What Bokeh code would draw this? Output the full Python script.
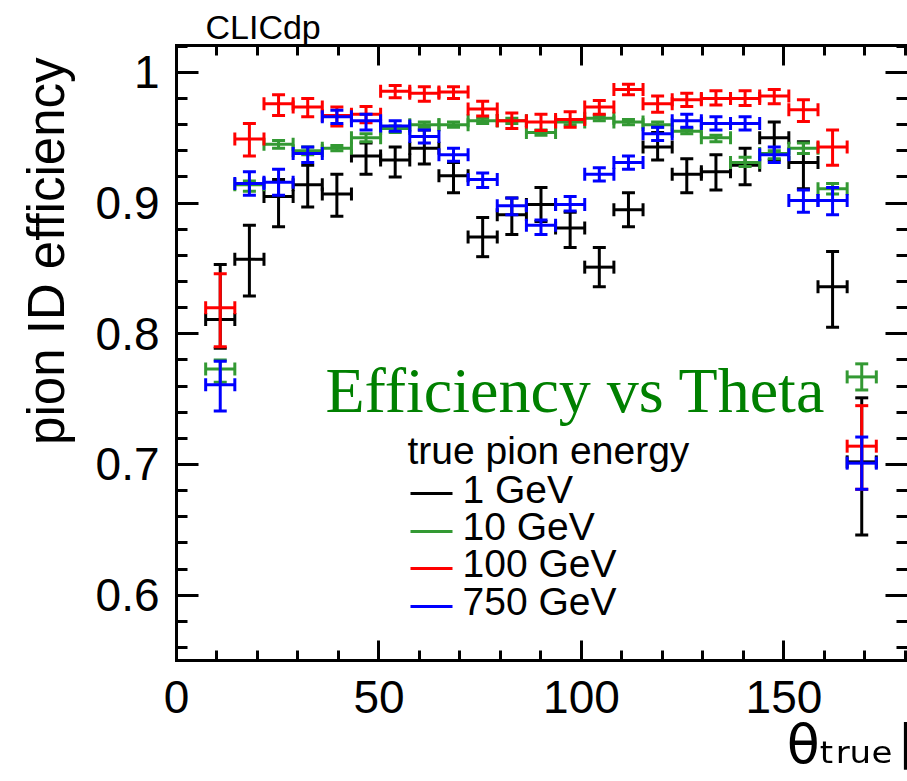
import numpy as np
from bokeh.plotting import figure
from bokeh.models import (ColumnDataSource, FixedTicker, LinearAxis, Range1d,
                          Label, Title, BoxAnnotation)
from bokeh.embed import file_html
from bokeh.resources import INLINE

# ---------------- data ----------------
theta_centers = [10.8, 18.0, 25.2, 32.4, 39.6, 46.8, 54.0, 61.2, 68.4, 75.6, 82.8, 90.0,
                 97.2, 104.4, 111.6, 118.8, 126.0, 133.2, 140.4, 147.6, 154.8, 162.0, 169.2]
bin_half_width = 3.6

eff_1gev = [0.811, 0.857, 0.905, 0.914, 0.907, 0.936, 0.933, 0.942, 0.921, 0.874, 0.891, 0.899,
            0.881, 0.851, 0.895, 0.943, 0.922, 0.924, 0.929, 0.950, 0.931, 0.836, 0.702]
lo_1gev = [0.789, 0.829, 0.882, 0.897, 0.890, 0.922, 0.920, 0.930, 0.908, 0.859, 0.876, 0.886,
           0.866, 0.836, 0.882, 0.933, 0.908, 0.910, 0.914, 0.933, 0.911, 0.805, 0.646]
hi_1gev = [0.853, 0.883, 0.918, 0.929, 0.922, 0.946, 0.943, 0.956, 0.931, 0.889, 0.904, 0.912,
           0.893, 0.866, 0.908, 0.954, 0.934, 0.937, 0.942, 0.962, 0.947, 0.863, 0.751]

eff_10gev = [0.773, 0.914, 0.945, 0.940, 0.942, 0.950, 0.957, 0.960, 0.960, 0.963, 0.963, 0.954,
             0.962, 0.965, 0.962, 0.960, 0.955, 0.950, 0.931, 0.938, 0.942, 0.911, 0.767]
lo_10gev = [0.763, 0.909, 0.942, 0.937, 0.940, 0.947, 0.954, 0.958, 0.958, 0.961, 0.961, 0.952,
            0.960, 0.963, 0.960, 0.958, 0.953, 0.947, 0.928, 0.934, 0.938, 0.907, 0.757]
hi_10gev = [0.780, 0.917, 0.948, 0.943, 0.944, 0.953, 0.959, 0.962, 0.962, 0.965, 0.965, 0.956,
            0.964, 0.967, 0.964, 0.962, 0.957, 0.952, 0.935, 0.940, 0.946, 0.915, 0.777]

eff_100gev = [0.820, 0.949, 0.976, 0.9735, 0.967, 0.968, 0.9855, 0.984, 0.985, 0.972, 0.963, 0.962,
              0.964, 0.9735, 0.987, 0.976, 0.979, 0.980, 0.980, 0.982, 0.9715, 0.943, 0.714]
lo_100gev = [0.790, 0.936, 0.967, 0.966, 0.959, 0.9615, 0.9806, 0.978, 0.980, 0.9666, 0.957, 0.9556,
             0.958, 0.968, 0.983, 0.9696, 0.974, 0.975, 0.9746, 0.976, 0.9625, 0.929, 0.681]
hi_100gev = [0.846, 0.961, 0.983, 0.980, 0.9735, 0.974, 0.990, 0.989, 0.989, 0.978, 0.969, 0.968,
             0.970, 0.9786, 0.991, 0.982, 0.984, 0.986, 0.986, 0.987, 0.979, 0.956, 0.745]

eff_750gev = [0.761, 0.915, 0.916, 0.938, 0.966, 0.963, 0.959, 0.951, 0.937, 0.918, 0.898, 0.883,
              0.899, 0.922, 0.931, 0.953, 0.963, 0.961, 0.961, 0.937, 0.902, 0.902, 0.701]
lo_750gev = [0.741, 0.906, 0.906, 0.931, 0.961, 0.956, 0.955, 0.946, 0.932, 0.912, 0.891, 0.876,
             0.894, 0.917, 0.926, 0.948, 0.958, 0.956, 0.956, 0.931, 0.893, 0.891, 0.681]
hi_750gev = [0.779, 0.924, 0.926, 0.943, 0.971, 0.968, 0.963, 0.956, 0.942, 0.923, 0.904, 0.887,
             0.905, 0.927, 0.936, 0.958, 0.968, 0.966, 0.966, 0.943, 0.910, 0.912, 0.721]

series_labels = ["1 GeV", "10 GeV", "100 GeV", "750 GeV"]
series_colors = ["black", "#339933", "#ff0000", "#0000ff"]
legend_title = "true pion energy"

x_major_ticks = [0, 50, 100, 150]
x_minor_ticks = [10, 20, 30, 40, 60, 70, 80, 90, 110, 120, 130, 140, 160, 170, 180]
y_major_ticks = [0.6, 0.7, 0.8, 0.9, 1.0]
y_tick_labels = ["0.6", "0.7", "0.8", "0.9", "1"]
y_minor_ticks = [0.56, 0.58, 0.62, 0.64, 0.66, 0.68, 0.72, 0.74, 0.76, 0.78, 0.82, 0.84,
                 0.86, 0.88, 0.92, 0.94, 0.96, 0.98, 1.02]

FONT = "Liberation Sans"

# ---------------- figure ----------------
p = figure(frame_width=731, frame_height=615,
           x_range=Range1d(0, 180.5), y_range=Range1d(0.55, 1.0206),
           output_backend="svg", toolbar_location=None,
           min_border_left=176, min_border_top=45, min_border_bottom=121, min_border_right=0)
p.outline_line_color = None
p.grid.visible = False
p.background_fill_color = "white"
p.border_fill_color = "white"

xticker = FixedTicker(ticks=x_major_ticks, minor_ticks=x_minor_ticks)
yticker = FixedTicker(ticks=y_major_ticks, minor_ticks=y_minor_ticks)


def style_axis(ax, major_in, minor_in):
    ax.axis_line_width = 3
    ax.axis_line_color = "black"
    ax.axis_line_cap = "square"
    ax.major_tick_in = major_in
    ax.major_tick_out = 0
    ax.minor_tick_in = minor_in
    ax.minor_tick_out = 0
    ax.major_tick_line_width = 3
    ax.minor_tick_line_width = 3
    ax.major_tick_line_color = "black"
    ax.minor_tick_line_color = "black"


xa = p.xaxis[0]
xa.ticker = xticker
style_axis(xa, 20, 10)
xa.major_label_text_font = FONT
xa.major_label_text_font_size = "46px"
xa.major_label_text_color = "black"
xa.major_label_standoff = 20

ya = p.yaxis[0]
ya.ticker = yticker
style_axis(ya, 22, 11)
ya.major_label_overrides = {v: s for v, s in zip(y_major_ticks, y_tick_labels)}
ya.major_label_text_font = FONT
ya.major_label_text_font_size = "46px"
ya.major_label_text_color = "black"
ya.major_label_standoff = 17

top_ax = LinearAxis(ticker=xticker, major_label_standoff=0,
                    major_label_overrides={t: "" for t in x_major_ticks})
style_axis(top_ax, 20, 10)
p.add_layout(top_ax, "above")

right_ax = LinearAxis(ticker=yticker, major_label_standoff=0,
                      major_label_overrides={t: "" for t in y_major_ticks})
style_axis(right_ax, 22, 11)
right_ax.axis_line_alpha = 0
p.add_layout(right_ax, "right")

# ---------------- data marks ----------------
all_eff = [eff_1gev, eff_10gev, eff_100gev, eff_750gev]
all_lo = [lo_1gev, lo_10gev, lo_100gev, lo_750gev]
all_hi = [hi_1gev, hi_10gev, hi_100gev, hi_750gev]

for lab, col, eff, lo, hi in zip(series_labels, series_colors, all_eff, all_lo, all_hi):
    src = ColumnDataSource(dict(
        x=theta_centers, y=eff, lo=lo, hi=hi,
        xl=[t - bin_half_width for t in theta_centers],
        xr=[t + bin_half_width for t in theta_centers]))
    p.segment(x0="xl", y0="y", x1="xr", y1="y", source=src, line_color=col, line_width=3)
    p.segment(x0="x", y0="lo", x1="x", y1="hi", source=src, line_color=col, line_width=3)
    for yy in ("lo", "hi"):
        p.scatter(x="x", y=yy, source=src, marker="dash", size=13, line_color=col, line_width=3)
    for xx in ("xl", "xr"):
        p.scatter(x=xx, y="y", source=src, marker="dash", angle=np.pi / 2, size=13,
                  line_color=col, line_width=3)

# ---------------- legend (drawn by hand, screen px from frame bottom-left) ----------------
p.add_layout(Label(x=231, y=189, x_units="screen", y_units="screen", text=legend_title,
                   text_font=FONT, text_font_size="39px", text_color="black"))
row_text_y = [150, 113, 76, 38]
row_line_y = [167, 129, 92, 54]
for lab, col, ty, ly in zip(series_labels, series_colors, row_text_y, row_line_y):
    p.add_layout(Label(x=286, y=ty, x_units="screen", y_units="screen", text=lab,
                       text_font=FONT, text_font_size="39px", text_color="black"))
    p.add_layout(BoxAnnotation(left=234, right=276, bottom=ly - 1.5, top=ly + 1.5,
                               left_units="screen", right_units="screen",
                               bottom_units="screen", top_units="screen",
                               fill_color=col, fill_alpha=1, line_color=None))

# ---------------- texts ----------------
p.add_layout(Label(x=149, y=235, x_units="screen", y_units="screen", text="Efficiency vs Theta",
                   text_font="Liberation Serif", text_font_size="64px", text_color="#008000"))

p.add_layout(Title(text="CLICdp", align="left", offset=29, standoff=0,
                   text_font=FONT, text_font_size="34px", text_font_style="normal",
                   text_color="black"), "above")
p.add_layout(Title(text="pion ID efficiency", align="right", offset=12, standoff=31,
                   vertical_align="top",
                   text_font=FONT, text_font_size="51px", text_font_style="normal",
                   text_color="black"), "left")
p.add_layout(Title(text="θₜᵣᵤₑ\u200a[°]", align="right", offset=-61, standoff=-5,
                   vertical_align="top",
                   text_font="DejaVu Sans", text_font_size="54px", text_font_style="normal",
                   text_color="black"), "below")

open("out.html", "w").write(file_html(p, INLINE))
